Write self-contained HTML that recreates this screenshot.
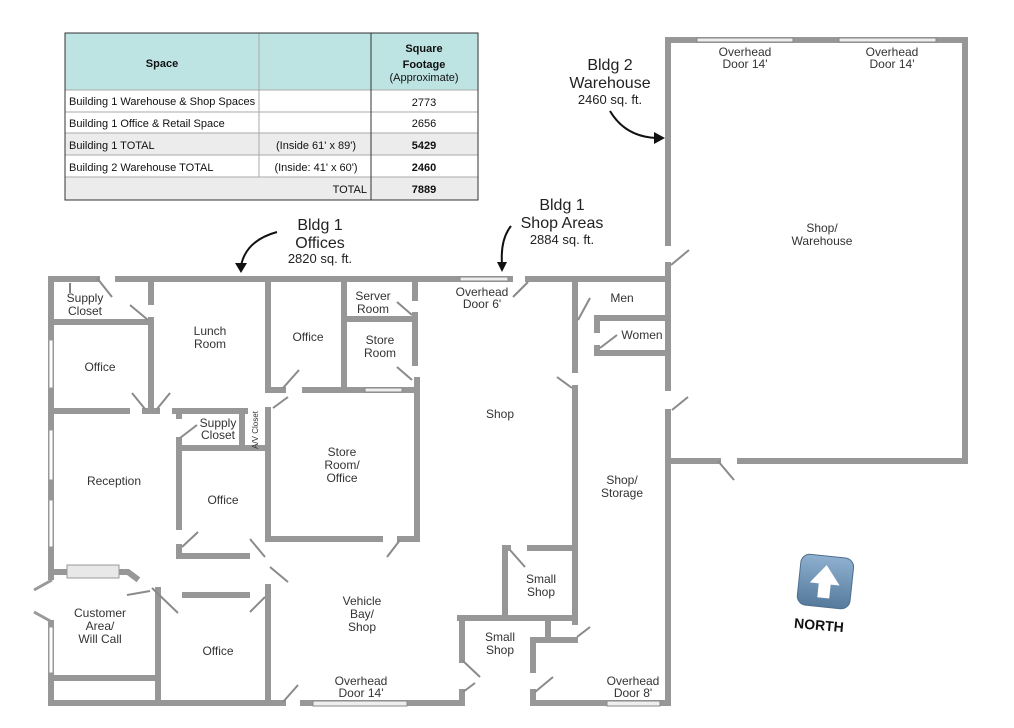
<!DOCTYPE html>
<html><head><meta charset="utf-8"><style>
html,body{margin:0;padding:0;background:#fff;width:1014px;height:728px;overflow:hidden}
svg{display:block}
.w{stroke:#979797;stroke-width:6;fill:none;stroke-linecap:square}
.d{stroke:#8a8a8a;stroke-width:2;fill:none}
.t{font-family:"Liberation Sans",sans-serif;font-size:12px;fill:#333;text-anchor:middle}
.b{font-family:"Liberation Sans",sans-serif;font-size:16px;fill:#222;text-anchor:middle}
.s{font-family:"Liberation Sans",sans-serif;font-size:13px;fill:#222;text-anchor:middle}
.tb{font-family:"Liberation Sans",sans-serif;font-size:11px;fill:#111}
.g{fill:#eee;stroke:#888;stroke-width:1}
</style></head><body>
<svg width="1014" height="728" viewBox="0 0 1014 728" xmlns="http://www.w3.org/2000/svg">
<!-- TABLE -->
<rect x="65" y="33" width="413" height="57" fill="#bee3e3"/>
<rect x="65" y="133" width="413" height="22" fill="#ececec"/>
<rect x="65" y="177" width="413" height="23" fill="#ececec"/>
<g stroke="#aaa" stroke-width="1">
<line x1="65" y1="90" x2="478" y2="90"/><line x1="65" y1="112" x2="478" y2="112"/>
<line x1="65" y1="133" x2="478" y2="133"/><line x1="65" y1="155" x2="478" y2="155"/>
<line x1="65" y1="177" x2="478" y2="177"/>
<line x1="259" y1="33" x2="259" y2="177"/>
</g>
<g stroke="#333" stroke-width="1" fill="none">
<rect x="65" y="33" width="413" height="167"/>
<line x1="371" y1="33" x2="371" y2="200"/>
</g>
<text x="162" y="67" class="tb" font-size="13" font-weight="bold" text-anchor="middle">Space</text>
<text x="424" y="52" class="tb" font-size="13" font-weight="bold" text-anchor="middle">Square</text>
<text x="424" y="68" class="tb" font-size="13" font-weight="bold" text-anchor="middle">Footage</text>
<text x="424" y="81" class="tb" font-size="10" text-anchor="middle">(Approximate)</text>
<text x="69" y="105" class="tb" font-size="10">Building 1 Warehouse &amp; Shop Spaces</text>
<text x="69" y="127" class="tb" font-size="10">Building 1 Office &amp; Retail Space</text>
<text x="69" y="149" class="tb" font-size="10">Building 1 TOTAL</text>
<text x="69" y="171" class="tb" font-size="10">Building 2 Warehouse TOTAL</text>
<text x="316" y="149" class="tb" font-size="12" text-anchor="middle">(Inside 61' x 89')</text>
<text x="316" y="171" class="tb" font-size="12" text-anchor="middle">(Inside: 41' x 60')</text>
<text x="367" y="193" class="tb" font-size="12" text-anchor="end">TOTAL</text>
<text x="424" y="106" class="tb" font-size="12" text-anchor="middle">2773</text>
<text x="424" y="127" class="tb" font-size="12" text-anchor="middle">2656</text>
<text x="424" y="149" class="tb" font-size="12" font-weight="bold" text-anchor="middle">5429</text>
<text x="424" y="171" class="tb" font-size="12" font-weight="bold" text-anchor="middle">2460</text>
<text x="424" y="193" class="tb" font-size="13" font-weight="bold" text-anchor="middle">7889</text>

<!-- Bldg labels and arrows -->
<text x="320" y="230" class="b">Bldg 1</text>
<text x="320" y="248" class="b">Offices</text>
<text x="320" y="263" class="s">2820 sq. ft.</text>
<path d="M277,232 C255,238 244,250 241,266" stroke="#111" stroke-width="2" fill="none"/>
<polygon points="235,263 247,263 241,273" fill="#111"/>
<text x="562" y="210" class="b">Bldg 1</text>
<text x="562" y="228" class="b">Shop Areas</text>
<text x="562" y="244" class="s">2884 sq. ft.</text>
<path d="M511,226 C503,236 501,250 502,264" stroke="#111" stroke-width="2" fill="none"/>
<polygon points="497,262 507,262 502,272" fill="#111"/>
<text x="610" y="70" class="b">Bldg 2</text>
<text x="610" y="88" class="b">Warehouse</text>
<text x="610" y="104" class="s">2460 sq. ft.</text>
<path d="M610,111 C620,128 635,137 656,138" stroke="#111" stroke-width="2" fill="none"/>
<polygon points="654,132 665,138 654,144" fill="#111"/>

<!-- BLDG 2 -->
<path class="w" d="M668,243 V40 H965 V461 H740 M718,461 H671 M668,265 V388"/>
<rect x="697" y="38" width="96" height="4" class="g"/>
<rect x="839" y="38" width="97" height="4" class="g"/>
<line class="d" x1="671" y1="265" x2="689" y2="250"/>
<line class="d" x1="718" y1="461" x2="734" y2="480"/>

<!-- BLDG 1 outer -->
<path class="w" d="M97,279 H51 V703 H283 M303,703 H460 M533,703 H668 V412 M668,388 V279 H528 M510,279 H118"/>
<rect x="460" y="277" width="48" height="4" class="g"/>
<rect x="313" y="701" width="94" height="5" class="g"/>
<rect x="607" y="701" width="53" height="5" class="g"/>
<!-- windows on left wall -->
<g fill="#fff" stroke="#999" stroke-width="1">
<rect x="49" y="340" width="4" height="48"/><rect x="49" y="430" width="4" height="50"/>
<rect x="49" y="500" width="4" height="47"/><rect x="49" y="627" width="4" height="46"/>
</g>
<rect x="46" y="580" width="10" height="40" fill="#fff"/>
<path d="M52,580 L34,590 M52,622 L34,612" stroke="#999" stroke-width="3" fill="none"/>
<line x1="70" y1="283" x2="70" y2="293" stroke="#000" stroke-width="1"/>

<!-- interior walls left -->
<path class="w" d="M51,322 H148 M151,283 V302 M151,320 V410 M51,411 H127 M145,411 H157
M268,283 V390 H283 M305,390 H415 M344,283 V390 M344,319 H415 M415,283 V298 M415,315 V363 M417,380 V539 H400 M380,539 H268 V410
M175,411 H245 M179,411 V416 M179,440 V527 M179,448 H268 M242,411 V448 M179,547 V556 H247
M51,572 H67 M119,572 H128 L136,578
M158,590 V703 M51,678 H158 M185,595 H247 M268,587 V703"/>
<rect x="365" y="388" width="37" height="4" class="g"/>
<rect x="67" y="565" width="52" height="13" fill="#e8e8e8" stroke="#999" stroke-width="1"/>
<g class="d">
<line x1="97" y1="278" x2="112" y2="297"/><line x1="130" y1="305" x2="148" y2="320"/>
<line x1="132" y1="393" x2="145" y2="409"/><line x1="170" y1="393" x2="157" y2="409"/>
<line x1="283" y1="388" x2="299" y2="370"/>
<line x1="397" y1="302" x2="412" y2="315"/><line x1="397" y1="367" x2="412" y2="380"/>
<line x1="387" y1="557" x2="400" y2="540"/>
<line x1="180" y1="438" x2="197" y2="425"/><line x1="273" y1="408" x2="288" y2="397"/>
<line x1="182" y1="547" x2="198" y2="532"/><line x1="250" y1="539" x2="265" y2="557"/>
<line x1="270" y1="567" x2="288" y2="582"/>
<line x1="127" y1="595" x2="150" y2="591"/><line x1="152" y1="588" x2="178" y2="613"/>
<line x1="250" y1="612" x2="265" y2="597"/><line x1="283" y1="702" x2="298" y2="685"/>
</g>

<!-- interior right -->
<path class="w" d="M575,283 V370 M575,388 V622 M597,318 H668 M597,318 V330 M597,348 V353 H668
M505,548 V617 M505,548 H508 M530,548 H575 M460,618 H575 M462,618 V660 M462,692 V703
M548,618 V640 M533,640 H575 M533,640 V670 M533,692 V703 M668,461 H700"/>
<g class="d">
<line x1="513" y1="297" x2="528" y2="282"/>
<line x1="578" y1="320" x2="590" y2="298"/><line x1="557" y1="377" x2="572" y2="388"/>
<line x1="600" y1="348" x2="617" y2="335"/><line x1="672" y1="410" x2="688" y2="397"/>
<line x1="510" y1="550" x2="525" y2="567"/><line x1="462" y1="660" x2="480" y2="677"/>
<line x1="463" y1="692" x2="475" y2="683"/><line x1="535" y1="692" x2="553" y2="677"/>
<line x1="577" y1="637" x2="590" y2="627"/>
</g>

<!-- room labels -->
<g class="t">
<text x="85" y="302">Supply</text><text x="85" y="315">Closet</text>
<text x="210" y="335">Lunch</text><text x="210" y="348">Room</text>
<text x="308" y="341">Office</text>
<text x="373" y="300">Server</text><text x="373" y="313">Room</text>
<text x="380" y="344">Store</text><text x="380" y="357">Room</text>
<text x="100" y="371">Office</text>
<text x="218" y="427">Supply</text><text x="218" y="439">Closet</text>
<text x="342" y="456">Store</text><text x="342" y="469">Room/</text><text x="342" y="482">Office</text>
<text x="114" y="485">Reception</text>
<text x="223" y="504">Office</text>
<text x="100" y="617">Customer</text><text x="100" y="630">Area/</text><text x="100" y="643">Will Call</text>
<text x="218" y="655">Office</text>
<text x="362" y="605">Vehicle</text><text x="362" y="618">Bay/</text><text x="362" y="631">Shop</text>
<text x="361" y="685">Overhead</text><text x="361" y="697">Door 14'</text>
<text x="482" y="296">Overhead</text><text x="482" y="308">Door 6'</text>
<text x="500" y="418">Shop</text>
<text x="622" y="302">Men</text>
<text x="642" y="339">Women</text>
<text x="622" y="484">Shop/</text><text x="622" y="497">Storage</text>
<text x="541" y="583">Small</text><text x="541" y="596">Shop</text>
<text x="500" y="641">Small</text><text x="500" y="654">Shop</text>
<text x="633" y="685">Overhead</text><text x="633" y="697">Door 8'</text>
<text x="745" y="56">Overhead</text><text x="745" y="68">Door 14'</text>
<text x="892" y="56">Overhead</text><text x="892" y="68">Door 14'</text>
<text x="822" y="232">Shop/</text><text x="822" y="245">Warehouse</text>
</g>
<text x="258" y="430" font-family="Liberation Sans,sans-serif" font-size="8" fill="#333" text-anchor="middle" transform="rotate(-90 258 430)">A/V Closet</text>

<!-- North -->
<defs><linearGradient id="ng" x1="0" y1="0" x2="0" y2="1"><stop offset="0" stop-color="#8fb0d0"/><stop offset="1" stop-color="#557a9c"/></linearGradient></defs>
<g transform="rotate(6 825 581)">
<rect x="799" y="556" width="53" height="51" rx="9" fill="url(#ng)" stroke="#4f6f8f" stroke-width="1"/>
<polygon points="825,565 840,584 831,584 831,598 819,598 819,584 810,584" fill="#fff"/>
</g>
<text x="819" y="630" font-family="Liberation Sans,sans-serif" font-size="14" font-weight="bold" fill="#111" text-anchor="middle" transform="rotate(5 819 625)">NORTH</text>
</svg>
</body></html>
